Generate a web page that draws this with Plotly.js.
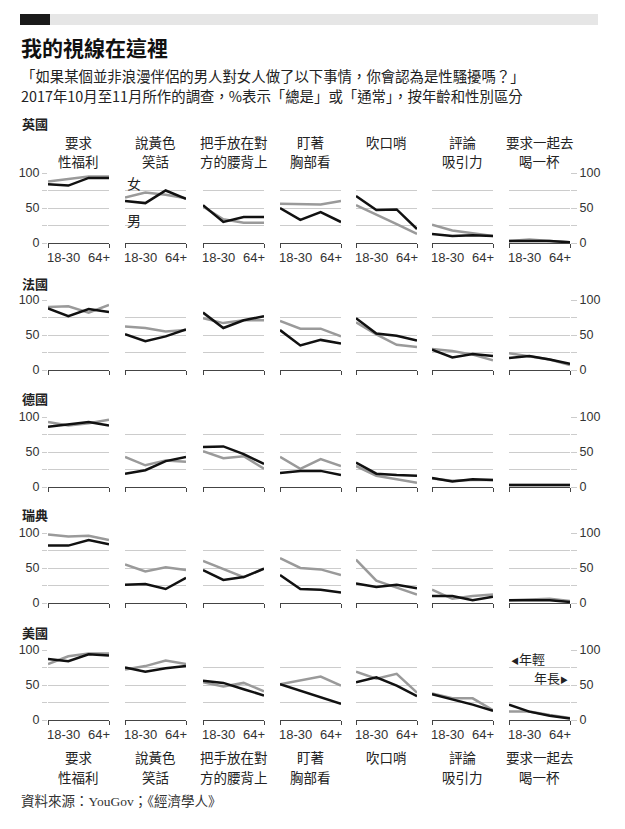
<!DOCTYPE html>
<html><head><meta charset="utf-8">
<script src="https://cdn.plot.ly/plotly-3.0.1.min.js"></script>
<style>html,body{margin:0;padding:0;background:#fff;} #chart{width:625px;height:829px;}</style>
</head><body><div id="chart"></div>
<script>
// ---- data ----
const countries = ['英國', '法國', '德國', '瑞典', '美國'];
const categoryLine1 = ['要求', '說黃色', '把手放在對', '盯著', '吹口哨', '評論', '要求一起去'];
const categoryLine2 = ['性福利', '笑話', '方的腰背上', '胸部看', '', '吸引力', '喝一杯'];
const ageIndex = [0, 1, 2, 3];
const ageTickLabels = ['18-30', '64+'];
const yTickVals = [0, 25, 50, 75, 100];
const yTickText = ['0', '', '50', '', '100'];

// each inner array: four age groups, 18-30 ... 64+
const ukWomen = [[88,92,95,95],[65,72,69,64],[52,34,29,29],[56,55,55,60],[54,41,27,13],[26,18,14,10],[3,5,3,1]];
const ukMen   = [[84,82,93,93],[60,57,75,63],[54,30,37,37],[50,33,44,30],[67,47,48,20],[13,10,11,10],[3,3,3,1]];
const frWomen = [[90,91,82,93],[62,60,55,57],[74,67,71,71],[70,59,59,48],[68,51,36,33],[30,27,22,14],[24,20,15,7]];
const frMen   = [[88,77,87,83],[51,41,48,58],[82,60,71,77],[57,35,43,38],[74,52,49,42],[29,18,23,20],[17,20,15,9]];
const deWomen = [[93,88,91,96],[43,31,38,36],[51,41,44,26],[43,26,40,30],[30,16,11,6],[12,9,10,10],[3,3,3.5,3]];
const deMen   = [[86,89,93,88],[19,24,37,43],[57,58,47,33],[20,23,23,17],[35,19,17,16],[13,8,11,10],[3,3,4,3]];
const seWomen = [[98,95,96,90],[55,45,51,47],[60,49,37,49],[64,50,48,40],[62,32,22,12],[19,6,10,12],[4,5,6,3]];
const seMen   = [[82,82,90,84],[26,27,20,36],[47,33,37,49],[40,20,19,15],[28,23,26,21],[10,10,4,9],[4,4,4,1.5]];
const usWomen = [[80,91,95,95],[72,77,85,80],[54,48,53,41],[51,57,62,49],[69,59,66,39],[38,31,31,14],[12,12,7,3]];
const usMen   = [[87,84,94,92],[75,69,74,77],[56,53,44,35],[51,42,32,23],[54,61,49,34],[37,30,22,13],[22,12,6,2]];

const womenByCountry = [ukWomen, frWomen, deWomen, seWomen, usWomen];
const menByCountry = [ukMen, frMen, deMen, seMen, usMen];

// ---- layout geometry ----
const W = 625, H = 829;
const colL = [48, 125, 203, 280, 356, 432, 509];
const colW = 61;
const rowTop = [173, 300, 417, 533, 650];
const rowH = 70;
const countryLabelY = [123, 283, 398, 514, 632];

const FONT_CJK = '"Noto Sans CJK TC", "Noto Sans CJK SC", sans-serif';
const FONT_NUM = '"Liberation Sans", Arial, sans-serif';
const GRAY = '#9a9a9a', BLACK = '#111111', GRID = '#cccccc', AXIS = '#444444';

const traces = [];
const layout = {
  width: W, height: H,
  margin: {l: 0, r: 0, t: 0, b: 0},
  paper_bgcolor: '#ffffff', plot_bgcolor: 'rgba(0,0,0,0)',
  showlegend: false,
  font: {family: FONT_CJK, color: '#222'},
  annotations: [], shapes: []
};

for (let r = 0; r < countries.length; r++) {
  for (let c = 0; c < categoryLine1.length; c++) {
    const n = r * categoryLine1.length + c + 1;
    const xk = n === 1 ? 'xaxis' : 'xaxis' + n;
    const yk = n === 1 ? 'yaxis' : 'yaxis' + n;
    const xr = n === 1 ? 'x' : 'x' + n;
    const yr = n === 1 ? 'y' : 'y' + n;
    const first = c === 0, last = c === categoryLine1.length - 1;
    layout[xk] = {
      domain: [colL[c] / W, (colL[c] + colW) / W], anchor: yr,
      range: [0, 3], showgrid: false, zeroline: false,
      showline: true, linecolor: AXIS, linewidth: 1,
      ticks: 'outside', tickvals: [0, 3], ticklen: 4, tickcolor: AXIS, tickwidth: 1,
      showticklabels: false, fixedrange: true
    };
    layout[yk] = {
      domain: [1 - (rowTop[r] + rowH) / H, 1 - rowTop[r] / H], anchor: xr,
      range: [0, 100], tickvals: yTickVals, ticktext: yTickText,
      showgrid: true, gridcolor: GRID, gridwidth: 1, zeroline: false, showline: false,
      showticklabels: first || last, side: last ? 'right' : 'left',
      ticks: (first || last) ? 'outside' : '', ticklen: last ? 6 : 5, tickcolor: GRID, tickwidth: 1,
      tickfont: {family: FONT_NUM, size: 12.5, color: '#333'}, fixedrange: true
    };
    traces.push({
      type: 'scatter', mode: 'lines', x: ageIndex, y: womenByCountry[r][c],
      xaxis: xr, yaxis: yr, line: {color: GRAY, width: 2.5}, hoverinfo: 'skip'
    });
    traces.push({
      type: 'scatter', mode: 'lines', x: ageIndex, y: menByCountry[r][c],
      xaxis: xr, yaxis: yr, line: {color: BLACK, width: 2.5}, hoverinfo: 'skip'
    });
    // age tick labels on first and last row
    if (r === 0 || r === countries.length - 1) {
      layout.annotations.push({xref: xr, yref: yr, x: 0, y: 0, xanchor: 'left', yanchor: 'top', yshift: -5, xshift: -3,
        text: ageTickLabels[0], showarrow: false, font: {family: FONT_NUM, size: 13, color: '#333'}});
      layout.annotations.push({xref: xr, yref: yr, x: 3, y: 0, xanchor: 'right', yanchor: 'top', yshift: -5, xshift: 3,
        text: ageTickLabels[1], showarrow: false, font: {family: FONT_NUM, size: 13, color: '#333'}});
    }
  }
  // country label
  layout.annotations.push({xref: 'paper', yref: 'paper', x: 20 / W, y: 1 - countryLabelY[r] / H,
    xanchor: 'left', yanchor: 'middle', text: countries[r], showarrow: false,
    font: {family: FONT_CJK, size: 13, color: '#222', weight: 'bold'}});
}

// category labels top and bottom, one annotation per line
const catFont = {family: FONT_CJK, size: 13.5, color: '#222'};
function catLine(text, cx, cy) {
  if (!text) return;
  layout.annotations.push({xref: 'paper', yref: 'paper', x: cx, y: 1 - cy / H, xanchor: 'center', yanchor: 'middle',
    text: text, showarrow: false, font: catFont, borderpad: 0});
}
for (let c = 0; c < categoryLine1.length; c++) {
  const cx = (colL[c] + colW / 2) / W;
  catLine(categoryLine1[c], cx, 142);
  catLine(categoryLine2[c], cx, 161);
  catLine(categoryLine1[c], cx, 757);
  catLine(categoryLine2[c], cx, 777);
}

// legend-like labels
layout.annotations.push({xref: 'x2', yref: 'y2', x: 0, y: 86, xanchor: 'left', yanchor: 'middle', text: '女',
  showarrow: false, font: {family: FONT_CJK, size: 14, color: '#222'}});
layout.annotations.push({xref: 'x2', yref: 'y2', x: 0, y: 33, xanchor: 'left', yanchor: 'middle', text: '男',
  showarrow: false, font: {family: FONT_CJK, size: 14, color: '#222'}});
layout.annotations.push({xref: 'x35', yref: 'y35', x: 0, y: 88, xanchor: 'left', yanchor: 'middle',
  text: '<span style="font-size:8px">◀</span>年輕',
  showarrow: false, font: {family: FONT_CJK, size: 13, color: '#222'}});
layout.annotations.push({xref: 'x35', yref: 'y35', x: 3, y: 61, xanchor: 'right', yanchor: 'middle',
  text: '年長<span style="font-size:8px">▶</span>',
  showarrow: false, font: {family: FONT_CJK, size: 13, color: '#222'}});

// title, subtitle, source
layout.annotations.push({xref: 'paper', yref: 'paper', x: 19 / W, y: 1 - 47 / H, xanchor: 'left', yanchor: 'middle',
  text: '我的視線在這裡', showarrow: false, font: {family: FONT_CJK, size: 21, color: '#111', weight: 'bold'}});
layout.annotations.push({xref: 'paper', yref: 'paper', x: 19 / W, y: 1 - 75 / H, xanchor: 'left', yanchor: 'middle',
  text: '「如果某個並非浪漫伴侶的男人對女人做了以下事情，你會認為是性騷擾嗎？」', showarrow: false,
  font: {family: FONT_CJK, size: 14.4, color: '#222'}});
layout.annotations.push({xref: 'paper', yref: 'paper', x: 19 / W, y: 1 - 95 / H, xanchor: 'left', yanchor: 'middle',
  text: '2017年10月至11月所作的調查，%表示「總是」或「通常」，按年齡和性別區分', showarrow: false,
  font: {family: FONT_CJK, size: 14.4, color: '#222'}});
layout.annotations.push({xref: 'paper', yref: 'paper', x: 19 / W, y: 1 - 801 / H, xanchor: 'left', yanchor: 'middle',
  text: '資料來源：YouGov；《經濟學人》', showarrow: false,
  font: {family: '"Liberation Serif", "Noto Sans CJK TC", serif', size: 13.5, color: '#333'}});

// header bar
layout.shapes.push({type: 'rect', xref: 'paper', yref: 'paper', x0: 50 / W, x1: 598 / W, y0: 1 - 25 / H, y1: 1 - 14 / H,
  fillcolor: '#e6e6e6', line: {width: 0}, layer: 'below'});
layout.shapes.push({type: 'rect', xref: 'paper', yref: 'paper', x0: 20 / W, x1: 50 / W, y0: 1 - 25 / H, y1: 1 - 14 / H,
  fillcolor: '#1a1a1a', line: {width: 0}, layer: 'below'});

Plotly.newPlot('chart', traces, layout, {staticPlot: true, displayModeBar: false});
</script>
</body></html>
